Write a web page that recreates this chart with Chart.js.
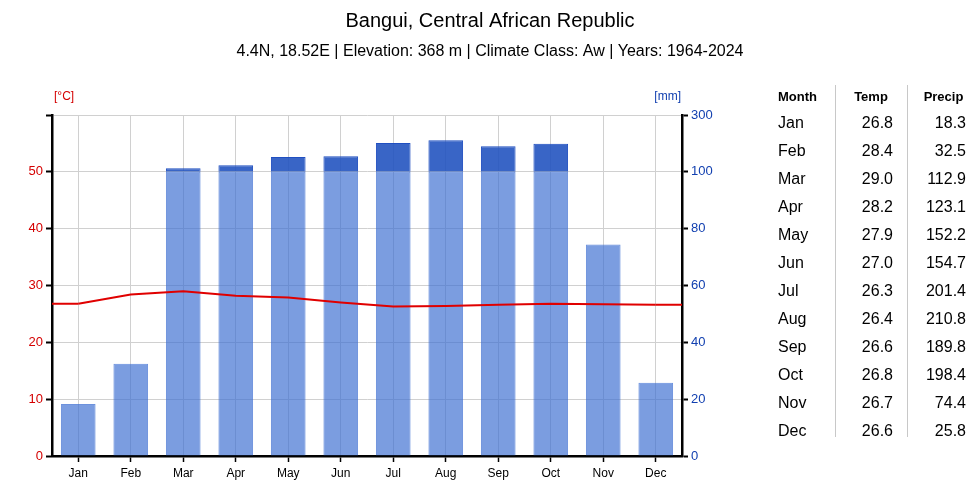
<!DOCTYPE html>
<html>
<head>
<meta charset="utf-8">
<script src="https://cdn.jsdelivr.net/npm/chart.js@4"></script>
<style>
  body { margin: 0; background: #fff; font-family: "Liberation Sans", Arial, sans-serif; }
  #wrap { position: relative; width: 980px; height: 486px; }
  #chart { position: absolute; left: 0; top: 0; }
  #tbl { position: absolute; left: 770px; top: 84px; border-collapse: collapse; color: #000; }
  #tbl th { font-size: 13px; font-weight: bold; height: 25px; padding: 0; }
  #tbl td { font-size: 16px; height: 28px; padding: 0; }
  #tbl .c1 { width: 65px; text-align: left; padding-left: 8px; box-sizing: border-box; }
  #tbl .c2 { width: 72px; box-sizing: border-box; }
  #tbl .c3 { width: 73px; box-sizing: border-box; }
  #tbl td.c2, #tbl td.c3 { text-align: right; padding-right: 14px; }
  #tbl th.c2, #tbl th.c3 { text-align: center; }
  .sep { position: absolute; top: 85px; height: 352px; width: 1px; background: #c8c8c8; }
</style>
</head>
<body>
<div id="wrap">
  <canvas id="chart" width="980" height="486"></canvas>
  <table id="tbl"></table>
  <div class="sep" style="left:835px"></div>
  <div class="sep" style="left:907px"></div>
</div>
<script>
// --- Data ---
const months = ['Jan', 'Feb', 'Mar', 'Apr', 'May', 'Jun', 'Jul', 'Aug', 'Sep', 'Oct', 'Nov', 'Dec'];
const temp = [26.8, 28.4, 29.0, 28.2, 27.9, 27.0, 26.3, 26.4, 26.6, 26.8, 26.7, 26.6];
const precip = [18.3, 32.5, 112.9, 123.1, 152.2, 154.7, 201.4, 210.8, 189.8, 198.4, 74.4, 25.8];
const tempTicks = [0, 10, 20, 30, 40, 50];
const precipTicks = [0, 20, 40, 60, 80, 100, 300];

// precip shares the temp scale: 2 mm per degree up to 100 mm, 20 mm per degree above
function toScale(p) {
    return p <= 100 ? p / 2 : 50 + (p - 100) / 20;
}

const precipLow = precip.map(p => toScale(Math.min(p, 100)));
const precipHigh = precip.map(p => p > 100 ? [50, toScale(p)] : null);

// --- Table ---
const tbl = document.getElementById('tbl');
tbl.innerHTML = `<tr><th class="c1" style="text-align:left">Month</th><th class="c2">Temp</th><th class="c3">Precip</th></tr>` +
    months.map((m, i) => `
        <tr>
            <td class="c1">${m}</td>
            <td class="c2">${temp[i].toFixed(1)}</td>
            <td class="c3">${precip[i].toFixed(1)}</td>
        </tr>`).join('');

// axis unit labels above each y axis
const unitLabels = {
    id: 'unitLabels',
    afterDraw(chart) {
        const ctx = chart.ctx;
        const top = chart.chartArea.top;
        ctx.save();
        ctx.font = '12px "Liberation Sans", Arial';
        ctx.textBaseline = 'middle';
        ctx.textAlign = 'left';
        ctx.fillStyle = '#d40000';
        ctx.fillText('[°C]', chart.chartArea.left + 2, top - 18);
        ctx.textAlign = 'right';
        ctx.fillStyle = '#1240b0';
        ctx.fillText('[mm]', chart.chartArea.right - 1, top - 18);
        ctx.restore();
    }
};

// temp line runs flat out to the plot edges
const lineEdges = {
    id: 'lineEdges',
    afterDatasetsDraw(chart) {
        const pts = chart.getDatasetMeta(0).data;
        if (!pts.length) return;
        const first = pts[0], last = pts[pts.length - 1];
        const ctx = chart.ctx;
        ctx.save();
        ctx.strokeStyle = '#e00000';
        ctx.lineWidth = 2;
        ctx.beginPath();
        ctx.moveTo(chart.chartArea.left, first.y);
        ctx.lineTo(first.x, first.y);
        ctx.moveTo(last.x, last.y);
        ctx.lineTo(chart.chartArea.right, last.y);
        ctx.stroke();
        ctx.restore();
    }
};

const GRID = '#d0d0d0';
const FONT = '"Liberation Sans", Arial';

new Chart(document.getElementById('chart'), {
    type: 'bar',
    data: {
        labels: months,
        datasets: [
            {
                type: 'line',
                label: 'Temp',
                data: temp,
                yAxisID: 'y',
                borderColor: '#e00000',
                borderWidth: 2,
                pointRadius: 0,
                tension: 0,
                order: 0
            },
            {
                label: 'Precip',
                data: precipLow,
                yAxisID: 'y',
                backgroundColor: 'rgba(60,110,210,0.68)',
                borderColor: 'rgba(60,110,210,0.75)',
                borderWidth: 1,
                barPercentage: 0.66,
                categoryPercentage: 1,
                grouped: false,
                order: 2
            },
            {
                label: 'Precip >100',
                data: precipHigh,
                yAxisID: 'y',
                backgroundColor: 'rgba(30,80,190,0.88)',
                borderColor: 'rgba(20,70,190,0.95)',
                borderWidth: 1,
                barPercentage: 0.66,
                categoryPercentage: 1,
                grouped: false,
                order: 1
            }
        ]
    },
    options: {
        responsive: false,
        animation: false,
        layout: { padding: 0 },
        plugins: {
            legend: { display: false },
            tooltip: { enabled: false },
            title: {
                display: true,
                text: 'Bangui, Central African Republic',
                color: '#000',
                font: { family: FONT, size: 20, weight: 'normal' },
                padding: { top: 9, bottom: 9 }
            },
            subtitle: {
                display: true,
                text: '4.4N, 18.52E | Elevation: 368 m | Climate Class: Aw | Years: 1964-2024',
                color: '#000',
                font: { family: FONT, size: 16 },
                padding: { top: 0, bottom: 53.8 }
            }
        },
        scales: {
            x: {
                offset: true,
                grid: { offset: false, color: GRID, tickColor: '#000', tickLength: 6, tickWidth: 1.5 },
                border: { color: '#000', width: 2.5 },
                ticks: { color: '#000', font: { family: FONT, size: 12 }, padding: 4 },
                afterFit(scale) { scale.height = 30; }
            },
            y: {
                position: 'left',
                min: 0,
                max: 60,
                grid: { color: GRID, tickColor: '#000', tickLength: 6, tickWidth: 2 },
                border: { color: '#000', width: 2.5 },
                afterBuildTicks(scale) {
                    scale.ticks = tempTicks.concat([60]).map(v => ({ value: v }));
                },
                ticks: {
                    color: '#d40000',
                    font: { family: FONT, size: 13 },
                    padding: 3,
                    callback: v => tempTicks.includes(v) ? String(v) : ''
                },
                afterFit(scale) { scale.width = 52; }
            },
            y2: {
                position: 'right',
                min: 0,
                max: 60,
                grid: { drawOnChartArea: false, tickColor: '#000', tickLength: 6, tickWidth: 2 },
                border: { color: '#000', width: 2.5 },
                afterBuildTicks(scale) {
                    scale.ticks = precipTicks.map(p => ({ value: toScale(p) }));
                },
                ticks: {
                    color: '#1240b0',
                    font: { family: FONT, size: 13 },
                    padding: 3,
                    callback: (v, i) => String(precipTicks[i])
                },
                afterFit(scale) { scale.width = 298; }
            }
        }
    },
    plugins: [unitLabels, lineEdges]
});
</script>
</body>
</html>
